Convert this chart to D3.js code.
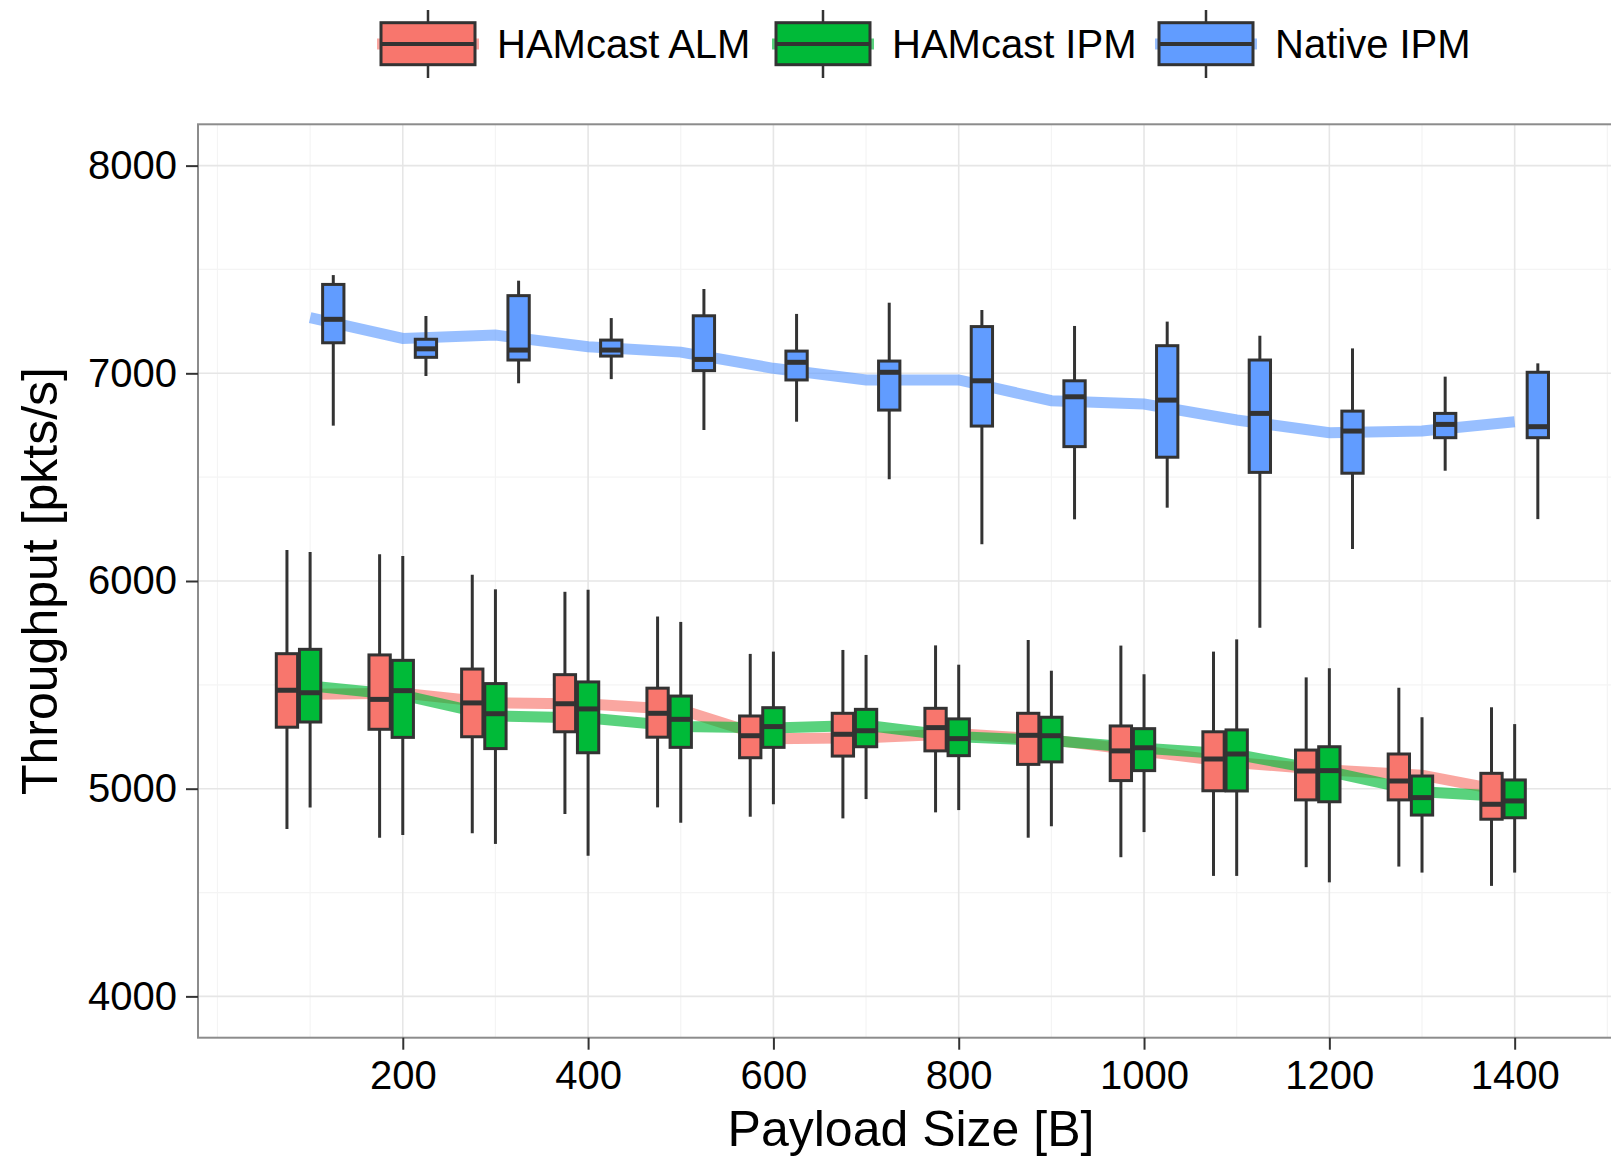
<!DOCTYPE html>
<html>
<head>
<meta charset="utf-8">
<script src="https://cdn.jsdelivr.net/npm/d3@7"></script>
<style>
  body { margin: 0; background: #fff; }
  svg { display: block; font-family: "Liberation Sans", Arial, Helvetica, sans-serif; }
</style>
</head>
<body>
<svg width="1611" height="1156"></svg>
<script>
// Payload sizes (x categories).
const payloads = [100, 200, 300, 400, 500, 600, 700, 800, 900, 1000, 1100, 1200, 1300, 1400];

// Box stats per payload: [lower whisker, q1, median, q3, upper whisker].
const almBoxes = [
  [4806, 5296, 5474, 5650, 6149], [4764, 5286, 5430, 5644, 6129], [4785, 5250, 5413, 5576, 6030],
  [4878, 5274, 5409, 5549, 5948], [4910, 5248, 5363, 5484, 5829], [4865, 5149, 5255, 5350, 5649],
  [4857, 5157, 5262, 5363, 5668], [4886, 5182, 5294, 5387, 5690], [4764, 5117, 5257, 5363, 5716],
  [4670, 5039, 5182, 5302, 5689], [4580, 4990, 5143, 5274, 5660], [4622, 4946, 5085, 5186, 5536],
  [4625, 4946, 5037, 5167, 5486], [4532, 4853, 4925, 5074, 5392]
];
const ipmBoxes = [
  [4909, 5321, 5462, 5671, 6140], [4777, 5247, 5472, 5618, 6120], [4734, 5193, 5361, 5506, 5960],
  [4677, 5173, 5384, 5514, 5958], [4836, 5199, 5334, 5446, 5803], [4925, 5199, 5299, 5390, 5660],
  [4950, 5202, 5279, 5382, 5644], [4897, 5159, 5241, 5336, 5597], [4819, 5129, 5255, 5344, 5568],
  [4791, 5087, 5197, 5289, 5551], [4580, 4989, 5167, 5283, 5719], [4549, 4937, 5087, 5202, 5580],
  [4596, 4873, 4957, 5061, 5344], [4596, 4860, 4941, 5042, 5311]
];
const nativeBoxes = [
  [6748, 7147, 7260, 7428, 7473], [6987, 7077, 7118, 7164, 7276], [6952, 7064, 7112, 7374, 7446],
  [6972, 7083, 7112, 7160, 7266], [6727, 7013, 7067, 7277, 7406], [6767, 6968, 7053, 7107, 7286],
  [6490, 6823, 7005, 7059, 7340], [6177, 6746, 6964, 7225, 7305], [6297, 6647, 6887, 6964, 7228],
  [6353, 6596, 6871, 7133, 7249], [5775, 6523, 6807, 7064, 7181], [6154, 6519, 6722, 6818, 7120],
  [6531, 6690, 6754, 6807, 6984], [6298, 6690, 6743, 7005, 7048]
];

// Mean lines.
const almMean = [5455, 5460, 5413, 5408, 5380, 5240, 5245, 5265, 5235, 5180, 5125, 5090, 5065, 4980];
const ipmMean = [5495, 5450, 5350, 5340, 5300, 5292, 5305, 5250, 5232, 5195, 5165, 5082, 4985, 4960];
const nativeMean = [7268, 7168, 7184, 7128, 7102, 7024, 6968, 6968, 6868, 6852, 6775, 6714, 6722, 6767];

// Ticks.
const xTicks = [200, 400, 600, 800, 1000, 1200, 1400];
const xMinor = [0, 100, 300, 500, 700, 900, 1100, 1300, 1500];
const yTicks = [4000, 5000, 6000, 7000, 8000];
const yMinor = [4500, 5500, 6500, 7500];

const series = [
  { name: "HAMcast ALM", color: "#F8766D", boxes: almBoxes, mean: almMean, offset: -25 },
  { name: "HAMcast IPM", color: "#00BA38", boxes: ipmBoxes, mean: ipmMean, offset: 0 },
  { name: "Native IPM", color: "#619CFF", boxes: nativeBoxes, mean: nativeMean, offset: 25 }
];

const svg = d3.select("svg");
const panel = { left: 198, top: 124.3, right: 1624, bottom: 1037.7 };

const x = d3.scaleLinear().domain([-21, 1518]).range([panel.left, panel.right]);
const y = d3.scaleLinear().domain([3801, 8199]).range([panel.bottom, panel.top]);
const boxW = 23;   // box width in payload units

// Grid lines.
const grid = svg.append("g");
grid.selectAll(".xminor").data(xMinor).enter().append("line")
  .attr("x1", d => x(d)).attr("x2", d => x(d))
  .attr("y1", panel.top).attr("y2", panel.bottom)
  .attr("stroke", "#f4f4f4").attr("stroke-width", 1.2);
grid.selectAll(".yminor").data(yMinor).enter().append("line")
  .attr("x1", panel.left).attr("x2", panel.right)
  .attr("y1", d => y(d)).attr("y2", d => y(d))
  .attr("stroke", "#f4f4f4").attr("stroke-width", 1.2);
grid.selectAll(".xmajor").data(xTicks).enter().append("line")
  .attr("x1", d => x(d)).attr("x2", d => x(d))
  .attr("y1", panel.top).attr("y2", panel.bottom)
  .attr("stroke", "#e6e6e6").attr("stroke-width", 1.6);
grid.selectAll(".ymajor").data(yTicks).enter().append("line")
  .attr("x1", panel.left).attr("x2", panel.right)
  .attr("y1", d => y(d)).attr("y2", d => y(d))
  .attr("stroke", "#e6e6e6").attr("stroke-width", 1.6);

// Mean lines (under the boxes).
const line = d3.line().x((d, i) => x(payloads[i])).y(d => y(d));
series.forEach(s => {
  svg.append("path")
    .datum(s.mean)
    .attr("d", line)
    .attr("fill", "none")
    .attr("stroke", s.color)
    .attr("stroke-opacity", 0.65)
    .attr("stroke-width", 11);
});

// Boxplots.
series.forEach(s => {
  const g = svg.append("g");
  const items = g.selectAll("g").data(s.boxes).enter().append("g");
  const cx = (d, i) => x(payloads[i] + s.offset);
  items.append("line")
    .attr("x1", cx).attr("x2", cx)
    .attr("y1", d => y(d[0])).attr("y2", d => y(d[4]))
    .attr("stroke", "#333").attr("stroke-width", 3);
  items.append("rect")
    .attr("x", (d, i) => x(payloads[i] + s.offset - boxW / 2))
    .attr("width", x(boxW) - x(0))
    .attr("y", d => y(d[3]))
    .attr("height", d => y(d[1]) - y(d[3]))
    .attr("fill", s.color)
    .attr("stroke", "#333").attr("stroke-width", 3);
  items.append("line")
    .attr("x1", (d, i) => x(payloads[i] + s.offset - boxW / 2))
    .attr("x2", (d, i) => x(payloads[i] + s.offset + boxW / 2))
    .attr("y1", d => y(d[2])).attr("y2", d => y(d[2]))
    .attr("stroke", "#333").attr("stroke-width", 5);
});

// Panel border.
svg.append("rect")
  .attr("x", panel.left).attr("y", panel.top)
  .attr("width", panel.right - panel.left).attr("height", panel.bottom - panel.top)
  .attr("fill", "none").attr("stroke", "#8c8c8c").attr("stroke-width", 2);

// Axes.
const xAxis = svg.append("g")
  .attr("transform", `translate(0,${panel.bottom})`)
  .call(d3.axisBottom(x).tickValues(xTicks).tickSize(12).tickPadding(11).tickFormat(d3.format("d")));
const yAxis = svg.append("g")
  .attr("transform", `translate(${panel.left},0)`)
  .call(d3.axisLeft(y).tickValues(yTicks).tickSize(12).tickPadding(9).tickFormat(d3.format("d")));
[xAxis, yAxis].forEach(a => {
  a.select(".domain").remove();
  a.selectAll(".tick line").attr("stroke", "#333").attr("stroke-width", 2);
  a.selectAll(".tick text").attr("fill", "#000").style("font-size", "40px")
    .style("font-family", "'Liberation Sans', Arial, Helvetica, sans-serif");
});

// Axis titles.
svg.append("text")
  .attr("x", (panel.left + panel.right) / 2).attr("y", 1146)
  .attr("text-anchor", "middle")
  .style("font-size", "50px")
  .text("Payload Size [B]");
svg.append("text")
  .attr("transform", `translate(57,${(panel.top + panel.bottom) / 2}) rotate(-90)`)
  .attr("text-anchor", "middle")
  .style("font-size", "50px")
  .text("Throughput [pkts/s]");

// Legend.
const legendX = [381, 776, 1159];
const legend = svg.append("g");
series.forEach((s, i) => {
  const kx = legendX[i], kw = 94, kc = kx + kw / 2;
  const k = legend.append("g");
  k.append("line").attr("x1", kc).attr("x2", kc).attr("y1", 10).attr("y2", 78)
    .attr("stroke", "#333").attr("stroke-width", 2.5);
  k.append("line").attr("x1", kx - 4).attr("x2", kx + kw + 4).attr("y1", 44).attr("y2", 44)
    .attr("stroke", s.color).attr("stroke-opacity", 0.65).attr("stroke-width", 11);
  k.append("rect").attr("x", kx).attr("y", 22.7).attr("width", kw).attr("height", 42)
    .attr("fill", s.color).attr("stroke", "#333").attr("stroke-width", 3);
  k.append("line").attr("x1", kx).attr("x2", kx + kw).attr("y1", 44).attr("y2", 44)
    .attr("stroke", "#333").attr("stroke-width", 4);
  k.append("text").attr("x", kx + 116).attr("y", 58)
    .style("font-size", "40px")
    .text(s.name);
});
</script>
</body>
</html>
